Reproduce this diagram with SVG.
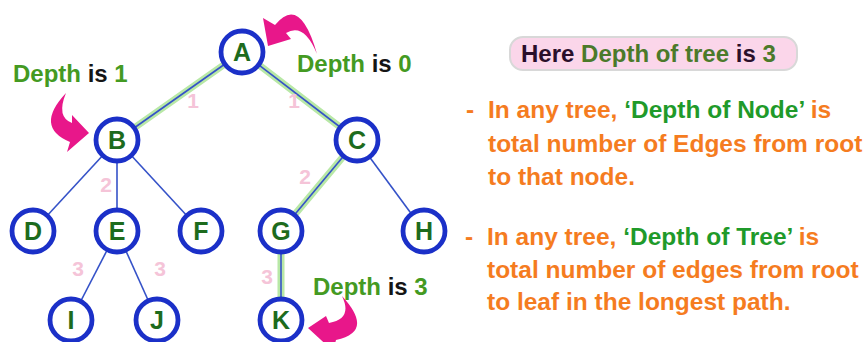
<svg xmlns="http://www.w3.org/2000/svg" width="865" height="342" viewBox="0 0 865 342">
<defs>
<style>
.hl{stroke:#b8e8a6;stroke-width:7;stroke-linecap:round;fill:none}
.ed{stroke:#3552c8;stroke-width:1.6;fill:none}
.nc{fill:#fff;stroke:#1b30c8;stroke-width:4.8}
.nt{font-family:"Liberation Sans",Arial,sans-serif;font-weight:bold;font-size:25px;fill:#1d6b1d;text-anchor:middle}
.num{font-family:"Liberation Sans",Arial,sans-serif;font-weight:bold;font-size:21px;fill:#f5c4d8;text-anchor:middle}
.lab{font-family:"Liberation Sans",Arial,sans-serif;font-weight:bold;font-size:24px;fill:#449a22}
.blk{fill:#151515}
.arr{fill:#e8178a}
.or{font-family:"Liberation Sans",Arial,sans-serif;font-weight:bold;font-size:24.5px;fill:#f57c1f}
.gr{fill:#1f9a2a}
.box{fill:#fbd6ea;stroke:#d8d8d8;stroke-width:2}
.bt{font-family:"Liberation Sans",Arial,sans-serif;font-weight:bold;font-size:24px;fill:#4b7a2a}
.dk{fill:#2a0f2a}
</style>
</defs>
<g id="connectors">
<line class="hl" x1="242" y1="52" x2="117" y2="140"/>
<line class="hl" x1="242" y1="52" x2="357" y2="140"/>
<line class="hl" x1="357" y1="140" x2="281" y2="231"/>
<line class="hl" x1="281" y1="231" x2="281" y2="320"/>
<line class="ed" x1="242" y1="52" x2="117" y2="140"/>
<line class="ed" x1="242" y1="52" x2="357" y2="140"/>
<line class="ed" x1="117" y1="140" x2="33" y2="231"/>
<line class="ed" x1="117" y1="140" x2="117" y2="231"/>
<line class="ed" x1="117" y1="140" x2="201" y2="231"/>
<line class="ed" x1="357" y1="140" x2="281" y2="231"/>
<line class="ed" x1="357" y1="140" x2="424" y2="231"/>
<line class="ed" x1="117" y1="231" x2="71" y2="320"/>
<line class="ed" x1="117" y1="231" x2="157" y2="320"/>
<line class="ed" x1="281" y1="231" x2="281" y2="320"/>
<text class="num" x="193" y="108">1</text>
<text class="num" x="294" y="108">1</text>
<text class="num" x="106" y="192">2</text>
<text class="num" x="305" y="184">2</text>
<text class="num" x="78" y="276">3</text>
<text class="num" x="160" y="276">3</text>
<text class="num" x="267" y="284">3</text>
</g>
<g id="node-A"><circle class="nc" cx="242" cy="52" r="21"/><text class="nt" x="242" y="61">A</text></g>
<g id="node-B"><circle class="nc" cx="117" cy="140" r="21"/><text class="nt" x="117" y="149">B</text></g>
<g id="node-C"><circle class="nc" cx="357" cy="140" r="21"/><text class="nt" x="357" y="149">C</text></g>
<g id="node-D"><circle class="nc" cx="33" cy="231" r="21"/><text class="nt" x="33" y="240">D</text></g>
<g id="node-E"><circle class="nc" cx="117" cy="231" r="21"/><text class="nt" x="117" y="240">E</text></g>
<g id="node-F"><circle class="nc" cx="201" cy="231" r="21"/><text class="nt" x="201" y="240">F</text></g>
<g id="node-G"><circle class="nc" cx="281" cy="231" r="21"/><text class="nt" x="281" y="240">G</text></g>
<g id="node-H"><circle class="nc" cx="424" cy="231" r="21"/><text class="nt" x="424" y="240">H</text></g>
<g id="node-I"><circle class="nc" cx="71" cy="320" r="21"/><text class="nt" x="71" y="329">I</text></g>
<g id="node-J"><circle class="nc" cx="157" cy="320" r="21"/><text class="nt" x="157" y="329">J</text></g>
<g id="node-K"><circle class="nc" cx="281" cy="320" r="21"/><text class="nt" x="281" y="329">K</text></g>
<g id="annotations">
<path class="arr" d="M268,46 L263,18 L275,25 Q300,-6 317,54 Q304,22 286,33 L291,39 Z"/>
<path class="arr" d="M89,133 L72,115 L72,123 Q56,117 66,93 Q34,127 70,142 L67,152 Z"/>
<path class="arr" d="M308,328 L326,316 L329,323 Q353,319 342,296 Q375,332 336,340 L333,351 Z"/>
<text class="lab" x="13" y="82">Depth <tspan class="blk">is</tspan> 1</text>
<text class="lab" x="297" y="72">Depth <tspan class="blk">is</tspan> 0</text>
<text class="lab" x="313" y="295">Depth <tspan class="blk">is</tspan> 3</text>
</g>
<g id="info">
<rect class="box" x="510" y="37" width="287" height="33" rx="13"/>
<text class="bt" x="521" y="62"><tspan class="dk">Here</tspan> Depth of tree <tspan class="dk">is</tspan> 3</text>
<text class="or" x="466" y="118">-</text>
<text class="or" x="488" y="118">In any tree, <tspan class="gr">‘Depth of Node’</tspan> is</text>
<text class="or" x="488" y="152">total number of Edges from root</text>
<text class="or" x="488" y="185">to that node.</text>
<text class="or" x="465" y="245">-</text>
<text class="or" x="487" y="245">In any tree, <tspan class="gr">‘Depth of Tree’</tspan> is</text>
<text class="or" x="487" y="278">total number of edges from root</text>
<text class="or" x="487" y="310">to leaf in the longest path.</text>
</g>
</svg>
